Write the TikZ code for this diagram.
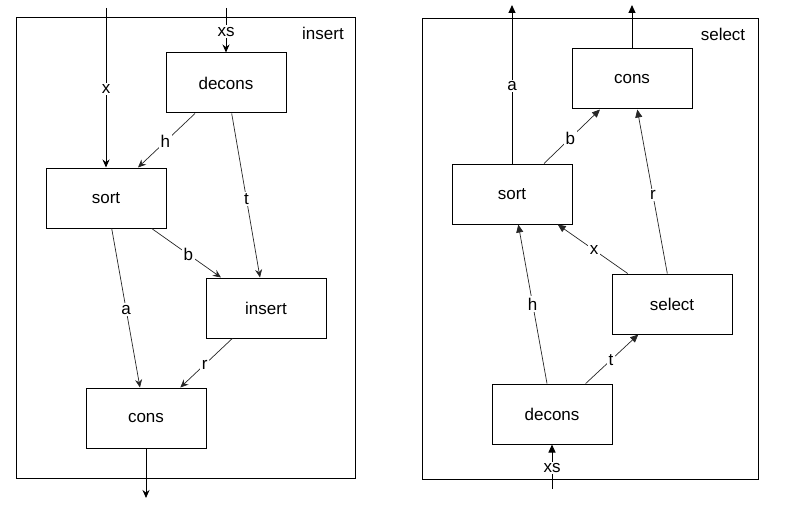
\documentclass[tikz,border=0pt]{standalone}
\usepackage{fontspec}
\setmainfont{Liberation Sans}
\usetikzlibrary{arrows.meta}
\begin{document}
\begin{tikzpicture}[x=1pt,y=-1pt,
  box/.style={draw,line width=1pt,minimum width=120pt,minimum height=60pt,inner sep=0pt,font=\fontsize{17}{20}\selectfont},
  frame/.style={draw,line width=1pt},
  lbl/.style={fill=white,inner sep=1.5pt,font=\fontsize{17}{20}\selectfont},
  title/.style={font=\fontsize{17}{20}\selectfont,inner sep=0pt},
  larr/.style={-{Stealth[length=8pt,width=7pt]}},
  rarr/.style={-{Triangle[length=8pt,width=7pt]}},
  straight/.style={line width=1pt},
  diag/.style={line width=0.7pt,draw=black!85}]
\useasboundingbox (0,0) rectangle (787,508);
% ---------- left: insert ----------
\node[frame,minimum width=339pt,minimum height=460pt,inner sep=0pt] (lframe) at (185.5,248) {};
\node[title] (ltitle) at (323,33) {insert};
\node[box] (ldecons) at (226,83) {decons};
\node[box] (lsort) at (106,198) {sort};
\node[box] (linsert) at (266,308) {insert};
\node[box] (lcons) at (146,418) {cons};
\coordinate (lxin) at (106,8);
\coordinate (lxsin) at (226,8);
\coordinate (lout) at (146,498);
\draw[straight,larr] (lxin) -- node[lbl,pos=0.51] {x} (lsort.north);
\draw[straight,larr] (lxsin) -- node[lbl,pos=0.53] {xs} (ldecons.north);
\draw[diag,larr] ([xshift=-31]ldecons.south) -- node[lbl,pos=0.52] {h} ([xshift=32]lsort.north);
\draw[diag,larr] ([xshift=5.7]ldecons.south) -- node[lbl,pos=0.52] {t} ([xshift=-6]linsert.north);
\draw[diag,larr] ([xshift=45.7]lsort.south) -- node[lbl,pos=0.53] {b} ([xshift=-45]linsert.north);
\draw[diag,larr] ([xshift=5.7]lsort.south) -- node[lbl,pos=0.51] {a} ([xshift=-6]lcons.north);
\draw[diag,larr] ([xshift=-33.7]linsert.south) -- node[lbl,pos=0.53] {r} ([xshift=34.3]lcons.north);
\draw[straight,larr] (lcons.south) -- (lout);
% ---------- right: select ----------
\node[frame,minimum width=336pt,minimum height=460pt,inner sep=0pt] (rframe) at (590,249) {};
\node[title] (rtitle) at (723,34) {select};
\node[box] (rcons) at (632,79) {cons};
\node[box] (rsort) at (512,194) {sort};
\node[box] (rselect) at (672,304) {select};
\node[box] (rdecons) at (552,414) {decons};
\coordinate (raout) at (512,5);
\coordinate (rcout) at (632,5);
\coordinate (rxsin) at (552,489);
\draw[straight,rarr] (rsort.north) -- node[lbl,pos=0.49] {a} (raout);
\draw[straight,rarr] (rcons.north) -- (rcout);
\draw[diag,rarr] ([xshift=32]rsort.north) -- node[lbl,pos=0.47] {b} ([xshift=-32]rcons.south);
\draw[diag,rarr] ([xshift=-4.7]rselect.north) -- node[lbl,pos=0.48] {r} ([xshift=5.3]rcons.south);
\draw[diag,rarr] ([xshift=-44.3]rselect.north) -- node[lbl,pos=0.48] {x} ([xshift=45.7]rsort.south);
\draw[diag,rarr] ([xshift=-5]rdecons.north) -- node[lbl,pos=0.5] {h} ([xshift=6.3]rsort.south);
\draw[diag,rarr] ([xshift=33.7]rdecons.north) -- node[lbl,pos=0.48] {t} ([xshift=-33.7]rselect.south);
\draw[straight,rarr] (rxsin) -- node[lbl,pos=0.47] {xs} (rdecons.south);
\end{tikzpicture}
\end{document}
